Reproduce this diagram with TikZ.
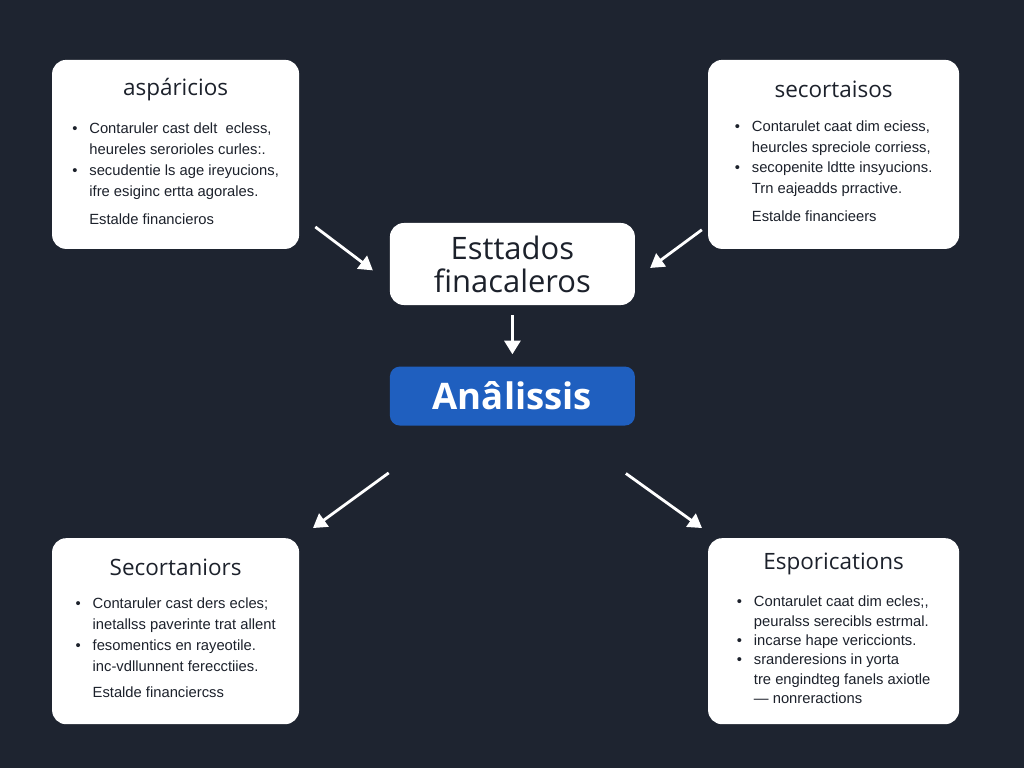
\documentclass[tikz,border=0pt]{standalone}
\usepackage{fontspec}
\setmainfont{Liberation Sans}
\newfontfamily\headfont{Open Sans}
\usetikzlibrary{
    arrows.meta,
    positioning
}

\definecolor{bgnavy}{HTML}{1E2430}
\definecolor{anablue}{HTML}{1F5FBF}
\definecolor{inktext}{HTML}{1C212B}

% title + bullet rows of one card
\newcommand{\cardbody}[3][14.8]{%
{\headfont\fontsize{16}{18}\selectfont #2}\\[12pt]
{\fontsize{10.5}{#1}\selectfont
\begin{tabular}[t]{@{}l@{\hspace{8.5pt}}l@{}}#3\end{tabular}}}

\begin{document}
\begin{tikzpicture}[
card/.style={
fill=white,
rounded corners=0.35cm,
minimum width=6.2cm,
minimum height=4.7cm,
align=center,
text=inktext
},
arrow/.style={
white,
line width=2pt,
-{Triangle[length=3.4mm,width=4mm]}
}
]

\fill[bgnavy] (0,0) rectangle (25.6,-19.2);

\node[card, fill=white, minimum width=6.125cm, minimum height=2.05cm,
font=\headfont\fontsize{22}{23.6}\selectfont] (estados)
at (12.81,-6.6)
{Esttados\\finacaleros};

\node[card, fill=anablue, text=white, minimum width=6.125cm, minimum height=1.475cm,
rounded corners=0.25cm, below=1.525cm of estados,
font=\headfont\bfseries\fontsize{26}{28}\selectfont] (analisis)
{Anâlissis};

\node[card, minimum width=6.175cm, minimum height=4.725cm] (asp)
at (4.39,-3.86)
{\cardbody{aspáricios}{%
\textbullet & Contaruler cast delt \ ecless,\\
& heureles serorioles curles:.\\
\textbullet & secudentie ls age ireyucions,\\
& ifre esiginc ertta agorales.\\[5pt]
& Estalde financieros}};

\node[card, minimum width=6.275cm, minimum height=4.725cm] (sec)
at (20.84,-3.86)
{\cardbody{secortaisos}{%
\textbullet & Contarulet caat dim eciess,\\
& heurcles spreciole corriess,\\
\textbullet & secopenite ldtte insyucions.\\
& Trn eajeadds prractive.\\[5pt]
& Estalde financieers}};

\node[card, minimum width=6.175cm, minimum height=4.65cm] (secn)
at (4.39,-15.78)
{\cardbody{Secortaniors}{%
\textbullet & Contaruler cast ders ecles;\\
& inetallss paverinte trat allent\\
\textbullet & fesomentics en rayeotile.\\
& inc-vdllunnent ferecctiies.\\[4pt]
& Estalde financiercss}};

\node[card, minimum width=6.275cm, minimum height=4.65cm] (espo)
at (20.84,-15.78)
{\cardbody[13.8]{Esporications}{%
\textbullet & Contarulet caat dim ecles;,\\
& peuralss serecibls estrmal.\\
\textbullet & incarse hape vericcionts.\\
\textbullet & sranderesions in yorta\\
& tre engindteg fanels axiotle\\
& --- nonreractions}};

\draw[arrow, shorten <=0.5cm, shorten >=0.525cm]
([yshift=-1.5125cm]asp.east) -- ([yshift=-0.475cm]estados.west);

\draw[arrow, shorten <=0.185cm, shorten >=0.465cm]
([yshift=-1.775cm]sec.west) -- ([yshift=-0.375cm]estados.east);

\draw[arrow, shorten <=0.25cm, shorten >=0.3cm]
(estados) -- (analisis);

\draw[arrow, shorten <=2.0cm, shorten >=0.42cm]
([xshift=-1.475cm]analisis.south) -- (secn.north east);

\draw[arrow, shorten <=2.045cm, shorten >=0.425cm]
([xshift=1.175cm]analisis.south) -- ([xshift=0.2cm]espo.north west);

\end{tikzpicture}
\end{document}
